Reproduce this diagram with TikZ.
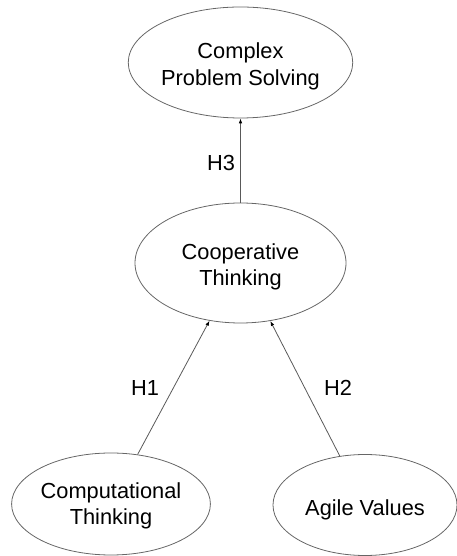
\documentclass[tikz,border=0pt]{standalone}
\usepackage{fontspec}
\setmainfont{Liberation Sans}
\usetikzlibrary{shapes.geometric,arrows.meta}
\begin{document}
\begin{tikzpicture}[x=1pt,y=1pt,
  construct/.style={ellipse,draw=black!60,line width=0.8pt,inner sep=0pt,
    align=center,font=\fontsize{21.8}{26.7}\selectfont},
  path/.style={draw=black!65,line width=0.8pt,
    -{Latex[length=5pt,width=3.6pt,fill=black,black]}},
  hyp/.style={font=\fontsize{21.8}{26.7}\selectfont}]
\useasboundingbox (0,0) rectangle (456,556);
% text height is raised a little so the labels sit slightly low in each ellipse
\node[construct,minimum width=211pt,minimum height=111pt,text height=50pt]
  (cps) at (240.5,493.5) {Complex\\Problem Solving};
\node[construct,minimum width=211pt,minimum height=120pt,text height=50pt]
  (coop) at (240.5,293) {Cooperative\\Thinking};
\node[construct,minimum width=188pt,minimum height=102pt,text height=46pt]
  (comp) at (111,52) {Computational\\Thinking};
\node[construct,minimum width=184pt,minimum height=101pt,text height=25pt]
  (agile) at (365,51) {Agile Values};
\draw[path] (coop) -- (cps);
\draw[path] (comp) -- (coop);
\draw[path] (agile) -- (coop);
\node[hyp] (h3) at (221,393) {H3};
\node[hyp] (h1) at (145,168) {H1};
\node[hyp] (h2) at (338,168) {H2};
\end{tikzpicture}
\end{document}
